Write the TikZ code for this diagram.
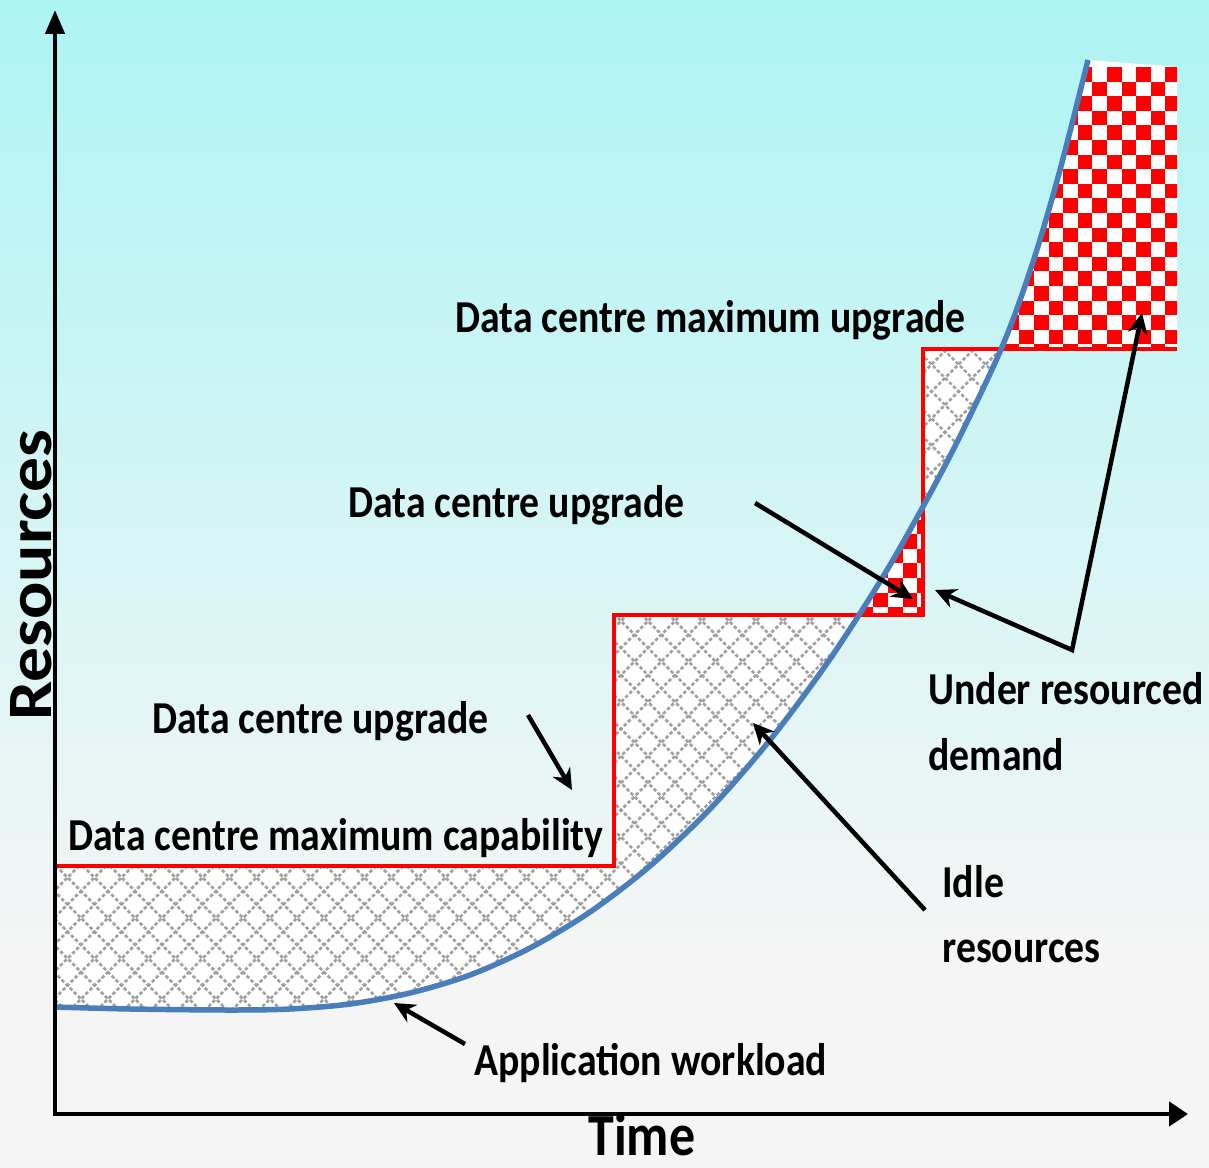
\documentclass[tikz,border=0pt]{standalone}
\usepackage{fontspec}
\setmainfont{Carlito}[FakeStretch=0.87]
\newfontfamily\axisfont{Carlito}[FakeStretch=1.1]
\usepackage{tikz}
\usetikzlibrary{arrows.meta}
\definecolor{skytop}{RGB}{174, 244, 244}
\definecolor{skybottom}{RGB}{245, 245, 245}
\definecolor{workloadblue}{RGB}{74, 126, 187}
\definecolor{hatchgrey}{RGB}{160, 160, 160}
\definecolor{shortred}{RGB}{255, 0, 0}

\def\workload{plot[smooth] coordinates {(55,1007) (130,1009) (230,1010) (290,1009) (350,1004) (410,993) (470,975) (530,948) (590,912) (650,866) (710,809) (770,740) (830,659) (890,565) (950,456) (1002,347) (1033,262) (1060,170) (1088,60)}}
\def\capstep{(55,866) -- (614,866) -- (614,615) -- (923,615) -- (923,349) -- (1177,349)}

\begin{document}
\begin{tikzpicture}[x=0.02cm, y=-0.02cm,
    capacity/.style={draw=shortred, line width=0.09cm},
    demand/.style={draw=workloadblue, line width=0.11cm},
    pointer/.style={line width=0.09cm, -{Stealth[length=0.42cm, width=0.4cm]}},
    annot/.style={font=\bfseries\fontsize{26}{37}\selectfont, inner sep=0pt, anchor=base west, align=left},
    hatchline/.style={draw=hatchgrey, line width=0.05cm, dash pattern=on 0.07cm off 0.045cm}
]
\useasboundingbox (0,0) rectangle (1209,1168);

% Background
\shade[top color=skytop, bottom color=skybottom] (0,0) rectangle (1209,950);
\fill[skybottom] (0,949) rectangle (1209,1168);

% Idle resources
\begin{scope}
\clip \capstep -- (1177,1168) -- (55,1168) -- cycle;
\clip \workload -- (1088,0) -- (55,0) -- cycle;
\fill[white] (0,0) rectangle (1209,1168);
\foreach \c in {0,27,...,2430} {
    \draw[hatchline] (\c,0) -- ++(-1215,1215);
    \draw[hatchline] (\c-1215,0) -- ++(1215,1215);
}
\end{scope}

% Under resourced demand
\begin{scope}
\clip \capstep -- (1177,0) -- (55,0) -- cycle;
\clip \workload -- (1177,67) -- (1177,1168) -- (55,1168) -- cycle;
\fill[white] (0,0) rectangle (1209,1168);
\foreach \i in {0,...,22} {
    \foreach \j in {0,2,...,38} {
        \fill[shortred] ({844.2+14.6*\i}, {67+14.6*(\j+mod(\i,2))}) rectangle ++(14.6,14.6);
    }
}
\end{scope}

% Capability and workload
\draw[capacity] \capstep;
\draw[demand] \workload;

% Axes
\coordinate (origin) at (55,1114);
\coordinate (ytip) at (55,10);
\coordinate (xtip) at (1188,1114);
\draw[line width=0.09cm, -{Triangle[length=0.48cm, width=0.38cm]}] (origin) -- (ytip);
\draw[line width=0.09cm, -{Triangle[length=0.38cm, width=0.48cm]}] ([xshift=-0.045cm]origin) -- (xtip);

\node[font=\axisfont\bfseries\fontsize{36}{40}\selectfont, inner sep=0pt, anchor=base, rotate=90] (resources) at (51,575) {Resources};
\node[annot, font=\bfseries\fontsize{34}{38}\selectfont] (time) at (588,1155) {Time};

% Labels
\node[annot] (maxupgrade) at (455,333) {Data centre maximum upgrade};
\node[annot] (upgradeb) at (348,518) {Data centre upgrade};
\node[annot] (upgradea) at (152,733) {Data centre upgrade};
\node[annot] (maxcap) at (68,850) {Data centre maximum capability};
\node[annot] (under) at (928,770) {Under resourced\\demand};
\node[annot] (idle) at (942,962) {Idle\\resources};
\node[annot] (workload) at (474,1075) {Application workload};

% Pointers
\coordinate (upgradea-s) at (528,715);
\coordinate (upgradea-e) at (572,790);
\coordinate (upgradeb-s) at (755,503);
\coordinate (upgradeb-e) at (913,599);
\coordinate (under-j) at (1072,650);
\coordinate (under-a) at (935,590);
\coordinate (under-b) at (1142,313);
\coordinate (idle-s) at (925,910);
\coordinate (idle-e) at (753,723);
\coordinate (workload-s) at (465,1044);
\coordinate (workload-e) at (394,1003);
\draw[pointer] (upgradea-s) -- (upgradea-e);
\draw[pointer] (upgradeb-s) -- (upgradeb-e);
\draw[pointer, {Stealth[length=0.42cm, width=0.4cm]}-{Stealth[length=0.42cm, width=0.4cm]}] (under-a) -- (under-j) -- (under-b);
\draw[pointer] (idle-s) -- (idle-e);
\draw[pointer] (workload-s) -- (workload-e);

\end{tikzpicture}
\end{document}
